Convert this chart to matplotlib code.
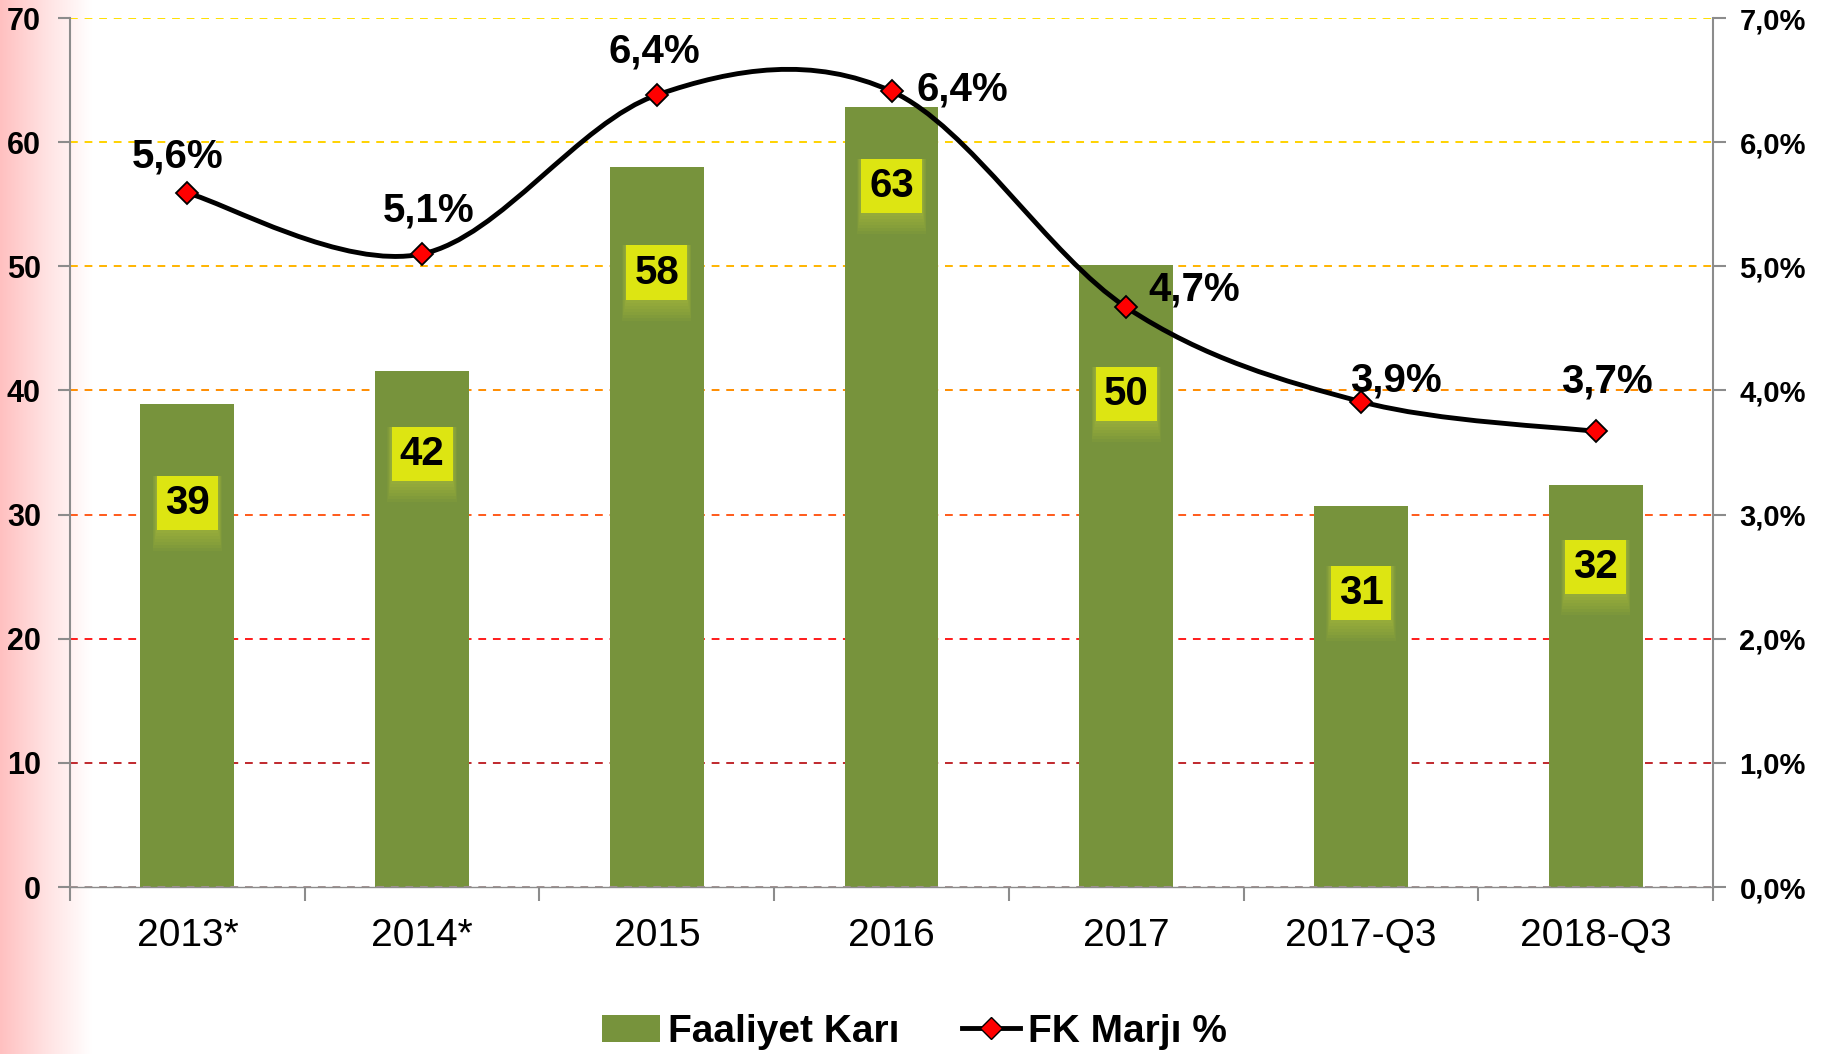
import numpy as np
import matplotlib
matplotlib.use("Agg")
import matplotlib.pyplot as plt
from matplotlib.path import Path
from matplotlib.patches import PathPatch, Patch, Rectangle
from matplotlib.lines import Line2D
from matplotlib.ticker import FuncFormatter
from matplotlib.colors import LinearSegmentedColormap

plt.rcParams['font.family'] = ['Liberation Sans', 'DejaVu Sans']

categories = ["2013*", "2014*", "2015", "2016", "2017", "2017-Q3", "2018-Q3"]
faaliyet_kari = [38.9, 41.6, 58.0, 62.8, 50.1, 30.7, 32.4]
fk_marji = [5.59, 5.10, 6.38, 6.41, 4.67, 3.91, 3.67]
bar_labels = ["39", "42", "58", "63", "50", "31", "32"]
pct_labels = ["5,6%", "5,1%", "6,4%", "6,4%", "4,7%", "3,9%", "3,7%"]
left_ticks = [0, 10, 20, 30, 40, 50, 60, 70]
right_ticks = [0, 1, 2, 3, 4, 5, 6, 7]

# layout: label y-positions inside bars (data units) and percent label offsets (points)
bar_label_y = [30.9, 34.9, 49.5, 56.5, 39.7, 23.7, 25.8]
pct_offsets = [(-7, 26), (5, 31), (-2, 31), (51, 1), (49, 13), (25, 15), (8, 36)]
grid_colors = {10: '#C0282D', 20: '#FF1A1A', 30: '#FF5A1A', 40: '#FF8C00',
               50: '#FFB400', 60: '#FFD200', 70: '#FFE000'}

fig = plt.figure(figsize=(18.29, 10.54), dpi=100)

# left pink gradient background
bg = fig.add_axes([0, 0, 0.05, 1], zorder=-10)
grad = np.linspace(0, 1, 256).reshape(1, -1)
cmap = LinearSegmentedColormap.from_list('pk', ['#FFC0C0', '#FFE2E2', '#FFFFFF'])
bg.imshow(grad, aspect='auto', cmap=cmap, extent=[0, 1, 0, 1])
bg.axis('off')

ax = fig.add_axes([0.0383, 0.1584, 0.8983, 0.8245])
ax.set_facecolor('none')
x = np.arange(len(categories))

ax.set_xlim(-0.5, len(categories) - 0.5)
ax.set_ylim(0, 70)

for lvl, c in grid_colors.items():
    ax.axhline(lvl, color=c, lw=1.4, ls=(0, (4, 3.5)), zorder=1)
ax.axhline(0, color='#A09090', lw=1.4, ls=(0, (4, 3.5)), zorder=3)

ax.bar(x, faaliyet_kari, width=0.4, color='#77933C', zorder=2)

label_texts = []
for xi, yl, t in zip(x, bar_label_y, bar_labels):
    txt = ax.text(xi, yl, t, fontsize=29, fontweight='bold', ha='center', va='center',
                  color='black', zorder=5,
                  bbox=dict(boxstyle='square,pad=0.2', fc='#DDE512', ec='none'))
    label_texts.append(txt)

spine_c = '#8C8C8C'
for s in ['left', 'right', 'bottom']:
    ax.spines[s].set_color(spine_c)
    ax.spines[s].set_linewidth(1.5)
ax.spines['top'].set_visible(False)
ax.spines['bottom'].set_visible(False)

ax.set_yticks(left_ticks)
ax.set_yticklabels([str(v) for v in left_ticks], fontsize=22, fontweight='bold')
ax.tick_params(axis='y', length=9, width=1.5, color=spine_c, pad=12)

ax.set_xticks(x)
ax.set_xticklabels(categories, fontsize=28)
ax.tick_params(axis='x', length=0, pad=22)
ax.set_xticks(np.arange(-0.5, len(categories)), minor=True)
ax.tick_params(axis='x', which='minor', length=10, width=1.5, color=spine_c)
ax.plot([-0.5, len(categories) - 0.5], [0, 0], color=spine_c, lw=1.0, zorder=2, clip_on=False)

ax2 = ax.twinx()
ax2.set_ylim(0, 7)
ax2.set_yticks(right_ticks)
ax2.yaxis.set_major_formatter(FuncFormatter(lambda v, p: f"{v:.1f}%".replace('.', ',')))
ax2.tick_params(axis='y', length=9, width=1.5, color=spine_c, labelsize=21, pad=10)
for lab in ax2.get_yticklabels():
    lab.set_fontweight('bold')
for s in ['left', 'right', 'bottom', 'top']:
    ax2.spines[s].set_visible(False)

# smoothed line (Catmull-Rom -> cubic Bezier)
xs = x.astype(float)
ys = np.array(fk_marji, dtype=float)
verts = [(xs[0], ys[0])]
codes = [Path.MOVETO]
n = len(xs)
for i in range(n - 1):
    p0 = (xs[i - 1], ys[i - 1]) if i > 0 else (xs[i], ys[i])
    p1 = (xs[i], ys[i])
    p2 = (xs[i + 1], ys[i + 1])
    p3 = (xs[i + 2], ys[i + 2]) if i + 2 < n else (xs[i + 1], ys[i + 1])
    c1 = (p1[0] + (p2[0] - p0[0]) / 6, p1[1] + (p2[1] - p0[1]) / 6)
    c2 = (p2[0] - (p3[0] - p1[0]) / 6, p2[1] - (p3[1] - p1[1]) / 6)
    verts += [c1, c2, p2]
    codes += [Path.CURVE4] * 3
ax2.add_patch(PathPatch(Path(verts, codes), fc='none', ec='black', lw=3.5, zorder=6))
ax2.plot(xs, ys, ls='none', marker='D', ms=11, mfc='#FF0000', mec='black', mew=1.3, zorder=7)

for xi, yi, t, off in zip(xs, ys, pct_labels, pct_offsets):
    ax2.annotate(t, (xi, yi), xytext=off, textcoords='offset points', ha='center',
                 va='center', fontsize=29, fontweight='bold', color='black', zorder=8)

handles = [Patch(fc='#77933C', ec='none'),
           Line2D([0], [0], color='black', lw=3.5, marker='D', ms=11, mfc='#FF0000', mec='black')]
fig.legend(handles, ['Faaliyet Karı', 'FK Marjı %'], loc='center', bbox_to_anchor=(0.5, 0.021),
           ncol=2, frameon=False, prop={'size': 28, 'weight': 'bold'}, handlelength=1.5,
           handletextpad=0.2, columnspacing=1.6)

# soft glow under each label box (derived from the rendered box extent)
fig.canvas.draw()
for txt in label_texts:
    bb = txt.get_bbox_patch().get_window_extent()
    for k in range(1, 8):
        grow = k * 2.0
        ax.add_patch(Rectangle((bb.x0 - grow * 0.3, bb.y0 - grow * 1.5), bb.width + grow * 0.6,
                               bb.height + grow * 1.5, transform=None, fc='#C9D63A',
                               ec='none', alpha=0.07, zorder=4))

fig.savefig('out.png', dpi=100)
